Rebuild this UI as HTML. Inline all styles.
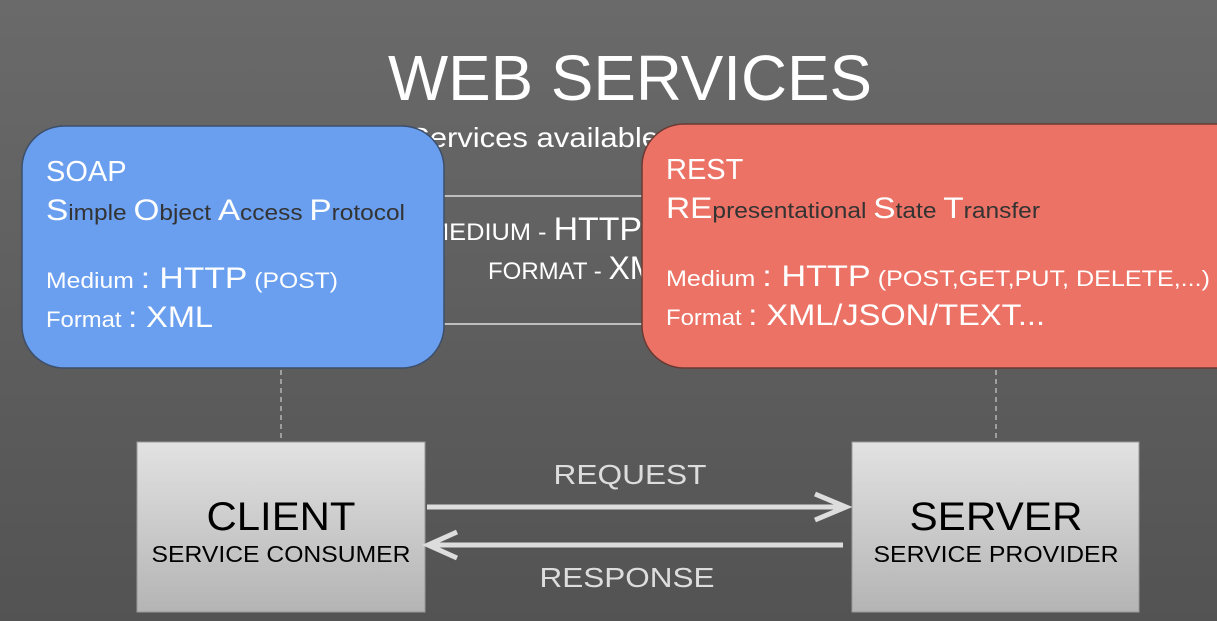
<!DOCTYPE html>
<html><head><meta charset="utf-8"><style>
html,body{margin:0;padding:0;width:1217px;height:621px;overflow:hidden;background:#5e5e5e}
svg{display:block}
text{font-family:"Liberation Sans",Arial,sans-serif}
</style></head><body>
<svg width="1217" height="621" viewBox="0 0 1217 621" xmlns="http://www.w3.org/2000/svg">
<defs>
<linearGradient id="bg" x1="0" y1="0" x2="0" y2="1">
<stop offset="0" stop-color="#6a6a6a"/><stop offset="1" stop-color="#535353"/></linearGradient>
<linearGradient id="box" x1="0" y1="0" x2="0" y2="1">
<stop offset="0" stop-color="#e2e2e2"/><stop offset="1" stop-color="#b4b4b4"/></linearGradient>
</defs>
<rect width="1217" height="621" fill="url(#bg)"/>
<text x="630" y="100" font-size="64" fill="#fff" text-anchor="middle" textLength="484" lengthAdjust="spacingAndGlyphs">WEB SERVICES</text>
<text x="409" y="147" font-size="28" fill="#fff" textLength="250" lengthAdjust="spacingAndGlyphs">Services available</text>
<line x1="440" y1="196" x2="650" y2="196" stroke="#ddd" stroke-width="1.5"/>
<line x1="440" y1="324" x2="650" y2="324" stroke="#ddd" stroke-width="1.5"/>
<text x="428" y="240" fill="#fff" font-size="24" textLength="214" lengthAdjust="spacingAndGlyphs">MEDIUM - <tspan font-size="32">HTTP</tspan></text>
<text x="488" y="279" fill="#fff" font-size="24">FORMAT - <tspan font-size="32">XML</tspan></text>
<!-- SOAP -->
<rect x="22" y="126" width="422" height="242" rx="42" fill="#6a9ff0" stroke="#3d4f6a" stroke-width="1.5"/>
<text x="46" y="181" font-size="29" fill="#fff">SOAP</text>
<text x="46" y="220" font-size="22" fill="#333" textLength="359" lengthAdjust="spacingAndGlyphs"><tspan fill="#fff" font-size="30">S</tspan>imple <tspan fill="#fff" font-size="30">O</tspan>bject <tspan fill="#fff" font-size="30">A</tspan>ccess <tspan fill="#fff" font-size="30">P</tspan>rotocol</text>
<text x="46" y="288" font-size="22" fill="#fff" textLength="292" lengthAdjust="spacingAndGlyphs">Medium <tspan font-size="30">: HTTP</tspan> (POST)</text>
<text x="46" y="327" font-size="22" fill="#fff" textLength="167" lengthAdjust="spacingAndGlyphs">Format <tspan font-size="30">: XML</tspan></text>
<!-- REST -->
<rect x="642" y="124" width="620" height="244" rx="42" fill="#ec7265" stroke="#6a3a34" stroke-width="1.5"/>
<text x="666" y="179" font-size="29" fill="#fff">REST</text>
<text x="666" y="218" font-size="22" fill="#333" textLength="374" lengthAdjust="spacingAndGlyphs"><tspan fill="#fff" font-size="30">RE</tspan>presentational <tspan fill="#fff" font-size="30">S</tspan>tate <tspan fill="#fff" font-size="30">T</tspan>ransfer</text>
<text x="666" y="286" font-size="22" fill="#fff" textLength="544" lengthAdjust="spacingAndGlyphs">Medium <tspan font-size="30">: HTTP</tspan> (POST,GET,PUT, DELETE,...)</text>
<text x="666" y="325" font-size="22" fill="#fff" textLength="379" lengthAdjust="spacingAndGlyphs">Format <tspan font-size="30">: XML/JSON/TEXT...</tspan></text>
<!-- dashed -->
<line x1="281" y1="370" x2="281" y2="442" stroke="#ccc" stroke-width="1.2" stroke-dasharray="5,4"/>
<line x1="996" y1="370" x2="996" y2="442" stroke="#ccc" stroke-width="1.2" stroke-dasharray="5,4"/>
<!-- boxes -->
<rect x="137" y="442" width="288" height="170" fill="url(#box)" stroke="#999"/>
<rect x="852" y="442" width="287" height="170" fill="url(#box)" stroke="#999"/>
<text x="281" y="530" font-size="40" fill="#000" text-anchor="middle" textLength="149" lengthAdjust="spacingAndGlyphs">CLIENT</text>
<text x="281" y="562" font-size="23" fill="#000" text-anchor="middle" textLength="259" lengthAdjust="spacingAndGlyphs">SERVICE CONSUMER</text>
<text x="996" y="530" font-size="40" fill="#000" text-anchor="middle" textLength="173" lengthAdjust="spacingAndGlyphs">SERVER</text>
<text x="996" y="562" font-size="23" fill="#000" text-anchor="middle" textLength="245" lengthAdjust="spacingAndGlyphs">SERVICE PROVIDER</text>
<!-- arrows -->
<text x="630" y="484" font-size="28" fill="#ddd" text-anchor="middle" textLength="153" lengthAdjust="spacingAndGlyphs">REQUEST</text>
<text x="627" y="587" font-size="28" fill="#ddd" text-anchor="middle" textLength="175" lengthAdjust="spacingAndGlyphs">RESPONSE</text>
<line x1="427" y1="507" x2="840" y2="507" stroke="#ddd" stroke-width="5"/>
<polyline points="815,494 846,507 815,520" fill="none" stroke="#ddd" stroke-width="5"/>
<line x1="432" y1="545" x2="843" y2="545" stroke="#ddd" stroke-width="5"/>
<polyline points="457,532 428,545 457,558" fill="none" stroke="#ddd" stroke-width="5"/>
</svg>
</body></html>
